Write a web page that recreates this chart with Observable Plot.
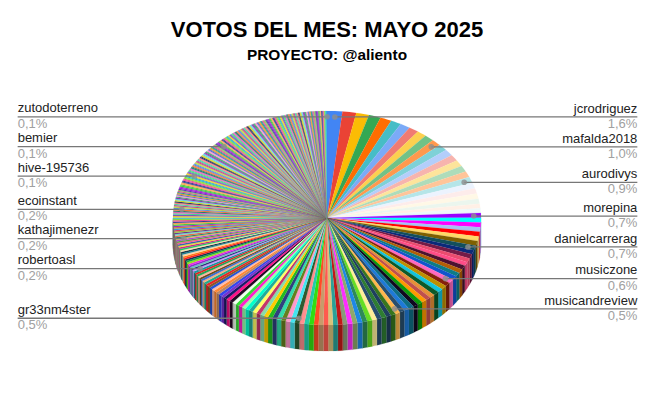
<!DOCTYPE html>
<html><head><meta charset="utf-8">
<script src="https://cdn.jsdelivr.net/npm/d3@7"></script>
<script src="https://cdn.jsdelivr.net/npm/@observablehq/plot@0.6"></script>
<style>
html,body{margin:0;padding:0;background:#fff;width:654px;height:400px;overflow:hidden}
#t{height:66px;text-align:center;color:#000;font-family:"Liberation Sans",Arial,sans-serif;position:relative}
#t h1{margin:0;position:absolute;left:0;width:654px;top:16px;font-size:22px;line-height:28px;font-weight:700}
#t h2{margin:0;position:absolute;left:0;width:654px;top:46px;font-size:15.4px;line-height:18px;font-weight:700}
svg{display:block}
</style></head><body>
<div id="t"><h1>VOTOS DEL MES: MAYO 2025</h1><h2>PROYECTO: @aliento</h2></div>
<div id="c"></div>
<script>
const sliceValues = [
1.6,1.45,1.35,1.25,1.2,1.1,1.05,1.05,1.0,1.0,1.0,1.0,0.95,0.95,0.95,0.95,0.9,0.9,0.85,0.8,0.8,0.75,0.7,0.7,
0.7,0.7,0.7,0.7,0.7,0.7,0.7,0.7,0.65,0.65,0.6,0.6,0.6,0.6,0.6,0.6,0.6,
0.6,0.6,0.6,0.6,0.55,0.55,0.55,0.55,0.55,0.55,0.55,0.55,0.5,
0.52,0.52,0.52,0.52,0.52,0.52,0.52,0.52,0.52,0.52,0.5,0.5,0.5,0.5,0.5,0.5,0.5,0.5,0.5,0.5,0.5,
0.48,0.48,0.48,0.48,0.48,0.48,0.44,0.44,0.44,0.44,0.44,0.44,0.4,0.4,0.4,0.4,0.4,0.4,0.36,0.36,0.36,0.36,0.36,
0.32,0.32,0.32,0.32,0.32,0.28,0.28,0.28,0.28,0.28,0.28,0.28,0.25,
0.25,0.25,0.25,0.25,0.25,0.25,0.25,0.25,0.25,0.25,0.23,0.23,0.23,0.23,0.23,0.23,0.23,0.23,0.23,0.23,0.22,
0.21,0.21,0.21,0.21,0.21,0.21,0.21,0.21,0.21,0.21,0.21,0.21,0.21,0.21,0.21,0.21,0.21,0.21,0.21,0.21,0.21,0.2,
0.19,0.19,0.19,0.19,0.19,0.19,0.19,0.19,0.17,0.17,0.17,0.17,0.17,0.17,0.17,0.17,0.17,0.17,0.17,0.17,
0.15,0.15,0.15,0.15,0.15,0.15,0.15,0.15,0.15,0.15,0.15,0.14,
0.135,0.135,0.135,0.135,0.135,0.135,0.135,0.135,0.135,0.135,0.135,0.135,0.135,
0.125,0.125,0.125,0.125,0.125,0.125,0.125,0.125,0.125,0.125,0.125,0.125,0.125,
0.115,0.115,0.115,0.115,0.115,0.115,0.115,0.115,0.115,0.115,0.115,0.115,0.115,0.11,
0.11,0.11,0.11,0.11,0.11,0.11,0.11,0.11,0.11,0.11,0.11,0.11,0.11,0.11,0.11,0.11,0.11,0.11,0.11,0.11,0.11,0.11,0.11,0.11,0.11,0.11,0.11,0.11,
0.105,0.105,0.105,0.105,0.105,0.105,0.105,0.105,0.105,0.105,0.105,0.105,0.105,0.105,0.105,
0.1,0.1,0.1,0.1,0.1,0.1,0.1,0.1,0.1,0.1,0.1,0.1,0.1,0.1,0.1,0.1,0.1,0.1,0.1,0.1,0.1,0.1,0.1,0.1,0.1,
0.095,0.095,0.095,0.095,0.095,0.095,0.095,0.095,0.095,0.095,0.095,0.095,0.095,0.095,0.095,
0.09,0.09,0.09,0.09,0.09,0.09,0.09,0.09,0.09,0.09,0.09,0.09,0.09,0.09,0.09,
0.085,0.085,0.085,0.085,0.085,0.085,0.085,0.085,0.085,0.085,0.085,0.085,
0.08,0.08,0.08,0.08,0.08,0.08,0.08,0.08,0.08,0.08,0.08,0.08,
0.075,0.075,0.075,0.075,0.075,0.075,0.075,0.075,0.075,0.075,
0.07,0.07,0.07,0.07,0.07,0.1
];
const sliceColors = [
"#4285f4","#ea4335","#fbbc04","#34a853","#ff6d01","#46bdc6","#7baaf7","#f07b72","#fcd04f","#71c287","#ff994d","#7ed1d7",
"#b3cefb","#f7b4ae","#fde49b","#aedcba","#ffc599","#b5e5e8","#ecf3fe","#fdeceb","#fff8e6","#ebf6ee","#fff0e6","#ecf8f9",
"#9900ff","#00ffff","#ff00ff","#a4c2f4","#ff0000","#ffd966","#7f6000","#134f5c",
"#0b2a7a","#741b47","#ea4c6f","#ff4d88","#4c1130","#b45f06","#0e7c86","#1155cc","#ff69c0",
"#85200c","#bf9000","#12c4dc","#0b5a2a","#e69138","#c0504d","#ff9900","#0a9a0a","#100820","#0f6e84","#1e7ad8","#274e6e","#ffb74d",
"#38761d","#1f3f5f","#2e7d32","#274e6e","#ffee99","#66dd22","#2e8b57","#1e88e5","#8fa86a","#ff2dff","#8a9a7a","#c21818","#2aa198","#d9c27a","#ff5a4f",
"#c79b6b","#ff4b26","#33dd11","#22ccaa","#ff8f8f","#2f5a2f",
"#44e5f0","#ff99cc","#667f1e","#33ddaa","#2f3f7f","#22bb22","#ffcc00","#88ddaa","#c2356b","#ffff66","#22aa99","#00ffcc","#99ffaa",
"#ff22cc","#33dd33","#eeffee","#220a22","#ff1188","#1a1a66","#7733cc","#3344ee","#bb8866","#ff8833","#ffbbaa","#2255dd","#8a5a2a","#ee2222",
"#22aa88","#f4b183","#3a6fd8","#6b4a1a","#ffb6a0","#22aa55","#e52222","#119999","#cc99ff","#2d2d7a","#66ccbb","#8833cc","#ee22ee","#99dd22",
"#11aa44","#113355","#ff2222","#ff7711","#ffd7a8","#1a8899","#113344","#ffe0b0","#22cc66","#cc2288","#eedd33","#3366aa","#ff5599","#55aa33",
"#aa44dd","#ddbb55","#228877","#ee6644","#77ddcc","#663399","#99cc33","#dd3366","#3399dd","#cc8833"
];
const laterColors = [
"#a020d8","#44cc44","#ffa850","#2a3a98","#ee4f98","#88dd33","#22b4d8","#f2cc22","#7a4fc8","#44dd88","#e860c0","#1f7f6f",
"#f57a3e","#4f88e8","#bbdd44","#c83f90","#44d8a8","#ff8080","#2a2f6a","#d8d820","#60d8e8","#9030b0","#33aa66","#f796d0",
"#5569cc","#ee9e25","#119999","#dd5599","#88ce55","#5533aa"
];
const labelRows = [
 {i:0,name:"jcrodriguez",pct:"1,6%"},
 {i:10,name:"mafalda2018",pct:"1,0%"},
 {i:17,name:"aurodivys",pct:"0,9%"},
 {i:24,name:"morepina",pct:"0,7%"},
 {i:31,name:"danielcarrerag",pct:"0,7%"},
 {i:40,name:"musiczone",pct:"0,6%"},
 {i:53,name:"musicandreview",pct:"0,5%"},
 {i:74,name:"gr33nm4ster",pct:"0,5%"},
 {i:110,name:"robertoasl",pct:"0,2%"},
 {i:131,name:"kathajimenezr",pct:"0,2%"},
 {i:153,name:"ecoinstant",pct:"0,2%"},
 {i:185,name:"hive-195736",pct:"0,1%"},
 {i:231,name:"bemier",pct:"0,1%"},
 {i:sliceValues.length-1,name:"zutodoterreno",pct:"0,1%"}
];

const total = d3.sum(sliceValues);
const depth = 0.243, dotR = 0.95, edge = 2.012, pairedFrom = 170;
const colorAt = i => {
  if (i < sliceColors.length) return sliceColors[i];
  const k = i - sliceColors.length;
  if (i < pairedFrom) return laterColors[k % laterColors.length];
  return laterColors[(pairedFrom - sliceColors.length + Math.floor((i - pairedFrom) / 2)) % laterColors.length];
};
const darken = c => { const r = d3.rgb(c); return d3.rgb(r.r*0.75, r.g*0.75, r.b*0.75).formatHex(); };

let cum = 0;
const faceRows = [], rimRows = [], mids = [];
sliceValues.forEach((v, i) => {
  const a0 = cum / total * 2 * Math.PI; cum += v;
  const a1 = cum / total * 2 * Math.PI;
  mids.push((a0 + a1) / 2);
  const n = Math.max(1, Math.ceil((a1 - a0) / 0.03));
  for (let k = 0; k <= n; k++) {
    const a = a0 + (a1 - a0) * k / n;
    faceRows.push({id: i, x: Math.sin(a), y: Math.cos(a), c: colorAt(i)});
  }
  const r0 = Math.max(a0, Math.PI/2), r1 = Math.min(a1, 3*Math.PI/2);
  if (r1 > r0) {
    const m = Math.max(1, Math.ceil((r1 - r0) / 0.03));
    for (let k = 0; k <= m; k++) {
      const a = r0 + (r1 - r0) * k / m;
      rimRows.push({id: i, x: Math.sin(a), y: Math.cos(a), y2: Math.cos(a) - depth, c: darken(colorAt(i))});
    }
  }
});
const labels = labelRows.map(d => {
  const a = mids[d.i], px = dotR*Math.sin(a), py = dotR*Math.cos(a), right = a < Math.PI;
  return {...d, px, py, ex: right ? edge : -edge, anchor: right ? "end" : "start"};
});
const L = labels.filter(d => d.anchor === "start"), R = labels.filter(d => d.anchor === "end");
const textMarks = (rows, anchor) => [
  Plot.text(rows,{x:"ex",y:"py",text:"name",textAnchor:anchor,dy:-8.5,fill:"#222222",fontSize:13,fontFamily:"'Liberation Sans',Arial,sans-serif"}),
  Plot.text(rows,{x:"ex",y:"py",text:"pct",textAnchor:anchor,dy:7,fill:"#a0a0a0",fontSize:13,fontFamily:"'Liberation Sans',Arial,sans-serif"})
];
const chart = Plot.plot({
  width:654, height:334, margin:0,
  x:{domain:[-2.1234,2.1234],range:[0,654],axis:null},
  y:{domain:[1.42,-1.7],range:[0,334],axis:null},
  color:{type:"identity"},
  marks:[
    Plot.area(rimRows,{x1:"x",y1:"y",x2:"x",y2:"y2",z:"id",fill:"c",stroke:"c",strokeWidth:0.15}),
    Plot.area(faceRows,{x1:()=>0,y1:()=>0,x2:"x",y2:"y",z:"id",fill:"c",stroke:"c",strokeWidth:0.1}),
    Plot.link(labels,{x1:"ex",y1:"py",x2:"px",y2:"py",stroke:"#777777",strokeWidth:1.3}),
    Plot.dot(labels,{x:"px",y:"py",r:2.8,fill:"#8f8f8f",fillOpacity:0.8}),
    ...textMarks(L,"start"),
    ...textMarks(R,"end")
  ]
});
document.getElementById("c").append(chart);
</script>
</body></html>
